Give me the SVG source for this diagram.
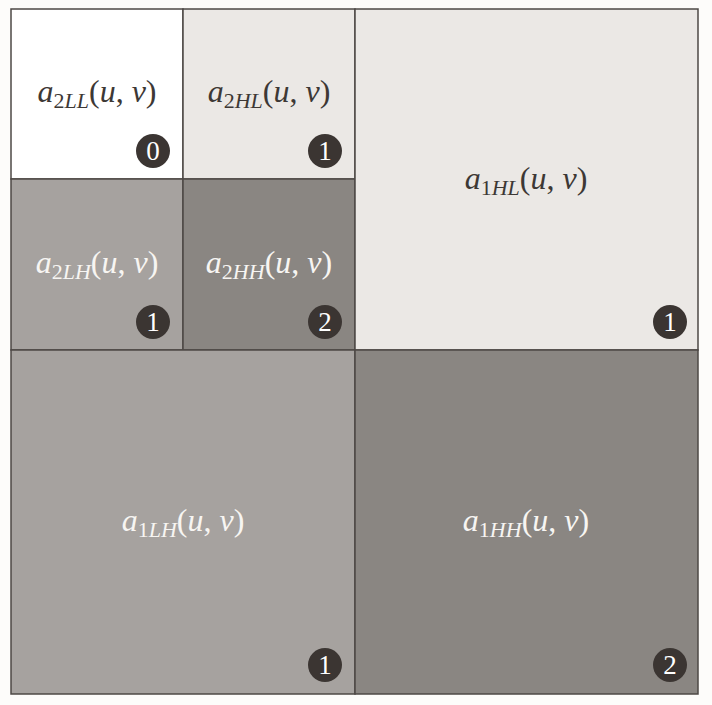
<svg xmlns="http://www.w3.org/2000/svg" width="712" height="705" viewBox="0 0 712 705">
<style>
.cell{stroke:#4d4845;stroke-width:1.5}
.lbl{font-family:"Liberation Serif","DejaVu Serif",serif;font-size:32px;text-anchor:middle}
.it{font-style:italic}
.sub{font-size:22px}
.dk{fill:#3d3835}
.lt{fill:#f7f5f2}
.badge circle{fill:#3b3532}
.badge text{font-family:"Liberation Serif","DejaVu Serif",serif;font-size:27px;fill:#ffffff;text-anchor:middle}
</style>
<rect x="0" y="0" width="712" height="705" fill="#fdfcfa"/>
<g id="a2LL">
<rect class="cell" x="11" y="9" width="172" height="170" fill="#ffffff"/>
<text class="lbl dk" x="97" y="102"><tspan class="it">a</tspan><tspan class="sub" dy="6">2</tspan><tspan class="sub it">LL</tspan><tspan dy="-6">(</tspan><tspan class="it">u</tspan>, <tspan class="it">v</tspan>)</text>
<g class="badge"><circle cx="153" cy="151" r="17"/><text x="153" y="160">0</text></g>
</g>
<g id="a2HL">
<rect class="cell" x="183" y="9" width="172" height="170" fill="#ebe8e5"/>
<text class="lbl dk" x="269" y="102"><tspan class="it">a</tspan><tspan class="sub" dy="6">2</tspan><tspan class="sub it">HL</tspan><tspan dy="-6">(</tspan><tspan class="it">u</tspan>, <tspan class="it">v</tspan>)</text>
<g class="badge"><circle cx="325" cy="151" r="17"/><text x="325" y="160">1</text></g>
</g>
<g id="a2LH">
<rect class="cell" x="11" y="179" width="172" height="171" fill="#a6a29f"/>
<text class="lbl lt" x="97" y="273"><tspan class="it">a</tspan><tspan class="sub" dy="6">2</tspan><tspan class="sub it">LH</tspan><tspan dy="-6">(</tspan><tspan class="it">u</tspan>, <tspan class="it">v</tspan>)</text>
<g class="badge"><circle cx="153" cy="322" r="17"/><text x="153" y="331">1</text></g>
</g>
<g id="a2HH">
<rect class="cell" x="183" y="179" width="172" height="171" fill="#8a8682"/>
<text class="lbl lt" x="269" y="273"><tspan class="it">a</tspan><tspan class="sub" dy="6">2</tspan><tspan class="sub it">HH</tspan><tspan dy="-6">(</tspan><tspan class="it">u</tspan>, <tspan class="it">v</tspan>)</text>
<g class="badge"><circle cx="325" cy="322" r="17"/><text x="325" y="331">2</text></g>
</g>
<g id="a1HL">
<rect class="cell" x="355" y="9" width="343" height="341" fill="#ebe8e5"/>
<text class="lbl dk" x="526" y="189"><tspan class="it">a</tspan><tspan class="sub" dy="6">1</tspan><tspan class="sub it">HL</tspan><tspan dy="-6">(</tspan><tspan class="it">u</tspan>, <tspan class="it">v</tspan>)</text>
<g class="badge"><circle cx="670" cy="322" r="17"/><text x="670" y="331">1</text></g>
</g>
<g id="a1LH">
<rect class="cell" x="11" y="350" width="344" height="344" fill="#a6a29f"/>
<text class="lbl lt" x="183" y="531"><tspan class="it">a</tspan><tspan class="sub" dy="6">1</tspan><tspan class="sub it">LH</tspan><tspan dy="-6">(</tspan><tspan class="it">u</tspan>, <tspan class="it">v</tspan>)</text>
<g class="badge"><circle cx="325" cy="665" r="17"/><text x="325" y="674">1</text></g>
</g>
<g id="a1HH">
<rect class="cell" x="355" y="350" width="343" height="344" fill="#8a8682"/>
<text class="lbl lt" x="526" y="531"><tspan class="it">a</tspan><tspan class="sub" dy="6">1</tspan><tspan class="sub it">HH</tspan><tspan dy="-6">(</tspan><tspan class="it">u</tspan>, <tspan class="it">v</tspan>)</text>
<g class="badge"><circle cx="670" cy="665" r="17"/><text x="670" y="674">2</text></g>
</g>
<g id="connectors"></g>
</svg>
